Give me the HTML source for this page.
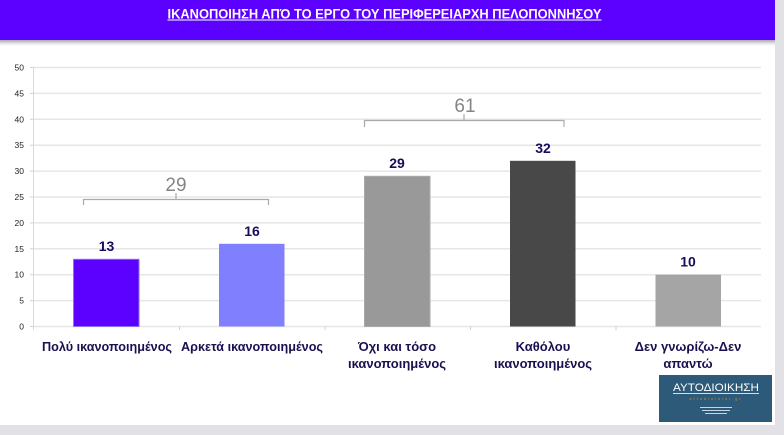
<!DOCTYPE html>
<html>
<head>
<meta charset="utf-8">
<style>
  html,body{margin:0;padding:0;}
  body{width:784px;height:435px;overflow:hidden;background:#e2e2e6;position:relative;font-family:"Liberation Sans",sans-serif;}
  .panel{position:absolute;left:0;top:0;width:775px;height:425px;background:#ffffff;}
  .header{position:absolute;left:0;top:0;width:775px;height:40px;background:#5c00ff;}
  .shadow{position:absolute;left:0;top:40px;width:775px;height:6px;background:linear-gradient(#a8a8b0,#e8e8ec 60%,#ffffff);}
  svg{position:absolute;left:0;top:0;}
</style>
</head>
<body>
<div class="panel"></div>
<div class="header"></div>
<div class="shadow"></div>
<svg width="784" height="435" viewBox="0 0 784 435" xmlns="http://www.w3.org/2000/svg">
  <!-- title -->
  <text x="384.5" y="18.3" text-anchor="middle" fill="#ffffff" font-family="'Liberation Sans',sans-serif" font-size="14" font-weight="bold" textLength="434" lengthAdjust="spacingAndGlyphs">ΙΚΑΝΟΠΟΙΗΣΗ ΑΠΌ ΤΟ ΕΡΓΟ ΤΟΥ ΠΕΡΙΦΕΡΕΙΑΡΧΗ ΠΕΛΟΠΟΝΝΗΣΟΥ</text>
  <rect x="167.5" y="19.3" width="434" height="1.4" fill="#c8c0ff"/>

  <!-- gridlines -->
  <g stroke="#e6e6e6" stroke-width="1.5">
    <line x1="33" y1="67.5" x2="761" y2="67.5"/>
    <line x1="33" y1="93.4" x2="761" y2="93.4"/>
    <line x1="33" y1="119.3" x2="761" y2="119.3"/>
    <line x1="33" y1="145.2" x2="761" y2="145.2"/>
    <line x1="33" y1="171.1" x2="761" y2="171.1"/>
    <line x1="33" y1="197" x2="761" y2="197"/>
    <line x1="33" y1="222.9" x2="761" y2="222.9"/>
    <line x1="33" y1="248.8" x2="761" y2="248.8"/>
    <line x1="33" y1="274.7" x2="761" y2="274.7"/>
    <line x1="33" y1="300.6" x2="761" y2="300.6"/>
    <line x1="33" y1="326.5" x2="761" y2="326.5"/>
  </g>
  <!-- y axis -->
  <line x1="33.5" y1="67" x2="33.5" y2="330" stroke="#d9d9d9" stroke-width="1"/>
  <g stroke="#d0d0d0" stroke-width="1">
    <line x1="30" y1="67.5" x2="33" y2="67.5"/><line x1="30" y1="93.4" x2="33" y2="93.4"/>
    <line x1="30" y1="119.3" x2="33" y2="119.3"/><line x1="30" y1="145.2" x2="33" y2="145.2"/>
    <line x1="30" y1="171.1" x2="33" y2="171.1"/><line x1="30" y1="197" x2="33" y2="197"/>
    <line x1="30" y1="222.9" x2="33" y2="222.9"/><line x1="30" y1="248.8" x2="33" y2="248.8"/>
    <line x1="30" y1="274.7" x2="33" y2="274.7"/><line x1="30" y1="300.6" x2="33" y2="300.6"/>
    <line x1="30" y1="326.5" x2="33" y2="326.5"/>
    <line x1="179.5" y1="326.5" x2="179.5" y2="330"/><line x1="325" y1="326.5" x2="325" y2="330"/>
    <line x1="470.5" y1="326.5" x2="470.5" y2="330"/><line x1="616" y1="326.5" x2="616" y2="330"/>
  </g>
  <g font-family="'Liberation Sans',sans-serif" font-size="8.5" fill="#222" text-anchor="end">
    <text x="24" y="70.5">50</text><text x="24" y="96.4">45</text><text x="24" y="122.3">40</text>
    <text x="24" y="148.2">35</text><text x="24" y="174.1">30</text><text x="24" y="200">25</text>
    <text x="24" y="225.9">20</text><text x="24" y="251.8">15</text><text x="24" y="277.7">10</text>
    <text x="24" y="303.6">5</text><text x="24" y="329.5">0</text>
  </g>

  <!-- bars -->
  <rect x="73.5" y="259.3" width="65.5" height="67.2" fill="#5c00ff" stroke="#8a70ff" stroke-width="1"/>
  <rect x="219" y="243.8" width="65.5" height="82.7" fill="#8080ff"/>
  <rect x="364.5" y="176.3" width="65.5" height="150.2" fill="#999999" stroke="#aaaaaa" stroke-width="1"/>
  <rect x="510" y="160.8" width="65.5" height="165.7" fill="#484848"/>
  <rect x="655.5" y="274.7" width="65.5" height="51.8" fill="#a5a5a5"/>

  <!-- value labels -->
  <g font-family="'Liberation Sans Narrow','Liberation Sans',sans-serif" font-size="14" font-weight="bold" fill="#1b0a5c" text-anchor="middle">
    <text x="106.5" y="251">13</text>
    <text x="252" y="236">16</text>
    <text x="397" y="168">29</text>
    <text x="543" y="153">32</text>
    <text x="688" y="266.5">10</text>
  </g>

  <!-- brackets -->
  <g stroke="#aaaaaa" stroke-width="1.2" fill="none">
    <polyline points="83.5,205 83.5,199.5 268.5,199.5 268.5,205"/>
    <line x1="176" y1="199.5" x2="176" y2="193"/>
    <polyline points="364.5,127 364.5,120.5 564,120.5 564,127"/>
    <line x1="464" y1="120.5" x2="464" y2="114"/>
  </g>
  <g font-family="'Liberation Sans Narrow','Liberation Sans',sans-serif" font-size="19" fill="#858585" text-anchor="middle">
    <text x="176" y="191">29</text>
    <text x="465" y="112">61</text>
  </g>

  <!-- category labels -->
  <g font-family="'Liberation Sans',sans-serif" font-size="13" font-weight="bold" fill="#1a1050" text-anchor="middle">
    <text x="107" y="351" textLength="130" lengthAdjust="spacingAndGlyphs">Πολύ ικανοποιημένος</text>
    <text x="252" y="351" textLength="142" lengthAdjust="spacingAndGlyphs">Αρκετά ικανοποιημένος</text>
    <text x="397" y="351">Όχι και τόσο</text>
    <text x="397" y="368">ικανοποιημένος</text>
    <text x="543" y="351">Καθόλου</text>
    <text x="543" y="368">ικανοποιημένος</text>
    <text x="688" y="351">Δεν γνωρίζω-Δεν</text>
    <text x="688" y="368">απαντώ</text>
  </g>

  <!-- logo -->
  <rect x="659" y="375" width="113" height="47" fill="#2c5a78"/>
  <text x="716" y="391" text-anchor="middle" fill="#ffffff" font-family="'Liberation Sans',sans-serif" font-size="11" textLength="86" lengthAdjust="spacingAndGlyphs">ΑΥΤΟΔΙΟΙΚΗΣΗ</text>
  <rect x="673" y="393" width="86" height="0.8" fill="#ffffff"/>
  <text x="716" y="400" text-anchor="middle" fill="#c89040" font-family="'Liberation Sans',sans-serif" font-size="4" letter-spacing="2">aftodioikisi.gr</text>
  <rect x="700" y="407" width="32" height="1" fill="#c8d4e0"/>
  <rect x="702" y="410" width="28" height="1" fill="#c8d4e0"/>
  <rect x="705" y="413" width="22" height="1" fill="#c8d4e0"/>
</svg>
</body>
</html>
